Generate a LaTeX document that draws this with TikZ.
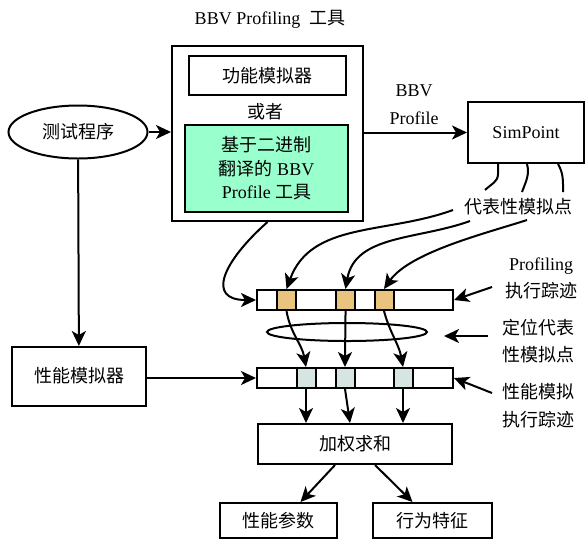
\documentclass[tikz,border=0pt]{standalone}
\usepackage{fontspec}
\usepackage{tikz}
\usetikzlibrary{arrows.meta,shapes.geometric}
\setmainfont{Liberation Serif}
\newfontfamily\cjk{Noto Sans CJK SC}
\definecolor{toolgreen}{HTML}{99FFCC}
\definecolor{hitorange}{HTML}{E8C47E}
\definecolor{hitgray}{HTML}{D6E4E2}

\begin{document}
\begin{tikzpicture}[x=1pt,y=-1pt,
    every node/.style={font=\fontsize{18}{22}\selectfont},
    box/.style={draw, line width=2pt, inner sep=0pt},
    cell/.style={draw, line width=2pt, inner sep=0pt, minimum width=19pt, minimum height=20pt},
    arr/.style={line width=2pt, -{Stealth[length=15pt,width=14pt,inset=4pt]}},
    wire/.style={line width=2pt}]
                \useasboundingbox (0,0) rectangle (585,539);
                \node (title) at (270,19) {BBV Profiling\ \ {\cjk 工具}};
                \node[box, minimum width=191pt, minimum height=175pt] (outer) at (267.5,133.5) {};
                \node[box, minimum width=157pt, minimum height=39pt] (func) at (267.5,75.5) {\cjk 功能模拟器};
                \node (or) at (265,112) {\cjk 或者};
                \node[box, fill=toolgreen, minimum width=163pt, minimum height=87pt, align=center,
                    font=\fontsize{18}{23.5}\selectfont] (bt) at (266.5,168.5) {{\cjk 基于二进制}\\{\cjk 翻译的} BBV\\Profile {\cjk 工具}};
                \node[draw, ellipse, line width=2pt, minimum width=139pt, minimum height=53pt, inner sep=0pt] (test) at (78,132) {\cjk 测试程序};
                \node[box, minimum width=134pt, minimum height=59pt] (psim) at (79,376.5) {\raisebox{4pt}{\cjk 性能模拟器}};
                \node[box, minimum width=116pt, minimum height=61pt] (sim) at (526,132.5) {SimPoint};
                \node[align=center, font=\fontsize{18}{28}\selectfont] (bbv) at (414,105) {BBV\\Profile};
                \node (rep) at (518,207) {\cjk 代表性模拟点};
                \node[box, minimum width=196pt, minimum height=20pt] (bar1) at (355,300) {};
                \node[cell, fill=hitorange] (o1) at (286.5,300) {};
                \node[cell, fill=hitorange] (o2) at (345.5,300) {};
                \node[cell, fill=hitorange] (o3) at (384,300) {};
                \node[draw, ellipse, line width=2pt, minimum width=160pt, minimum height=18pt, inner sep=0pt] (loc) at (347,332) {};
                \node[box, minimum width=196pt, minimum height=20pt] (bar2) at (355,378) {};
                \node[cell, fill=hitgray] (g1) at (306,378) {};
                \node[cell, fill=hitgray] (g2) at (345,378) {};
                \node[cell, fill=hitgray] (g3) at (403,378) {};
                \node[box, minimum width=194pt, minimum height=40pt] (sum) at (355,444) {\cjk 加权求和};
                \node[box, minimum width=117pt, minimum height=35pt] (par) at (278.5,520.5) {\cjk 性能参数};
                \node[box, minimum width=119pt, minimum height=35pt] (beh) at (432.5,520.5) {\cjk 行为特征};
                \node[align=center, font=\fontsize{18}{27}\selectfont] (l1) at (541,278.5) {Profiling\\{\cjk 执行踪迹}};
                \node[align=center, font=\fontsize{18}{27}\selectfont] (l2) at (538,341.5) {{\cjk 定位代表}\\{\cjk 性模拟点}};
                \node[align=center, font=\fontsize{18}{28}\selectfont] (l3) at (538,406) {{\cjk 性能模拟}\\{\cjk 执行踪迹}};
                \coordinate (c1) at (453,210);
                \coordinate (c2) at (470,221);
                \coordinate (c3) at (527,220);
                \coordinate (d1) at (485,190);
                \coordinate (d2) at (522,192);
                \coordinate (d3) at (563,192);
                \coordinate (p1) at (492,287);
                \coordinate (p2) at (488,336);
                \coordinate (p3) at (492,393);
                \draw[arr] (test) -- (test -| outer.west);
                \draw[arr] (test) -- (psim);
                \draw[arr] (outer.east |- sim.west) -- (sim.west);
                \draw[arr] (psim.east |- bar2.west) -- (bar2.west);
                \draw[wire] ([xshift=-28pt]sim.south) -- ++(0,10) to[out=-90,in=45] (d1);
                \draw[wire] ([xshift=1pt]sim.south) to[out=-75,in=70] (d2);
                \draw[wire] ([xshift=32pt]sim.south) to[out=-60,in=90] (d3);
                \draw[arr] (c1) to[out=200,in=70] (o1.north);
                \draw[arr] (c2) to[out=200,in=80] (o2.north);
                \draw[arr] (c3) .. controls (487,233) and (410,252) .. (o3.north);
                \draw[arr] (outer.south) .. controls +(-45,40) and +(-50,0) .. (bar1.west);
                \draw[arr] (o1.south) to[out=-80,in=100] (g1.north);
                \draw[arr] (o2.south) to[out=-90,in=90] (g2.north);
                \draw[arr] (o3.south) to[out=-75,in=100] (g3.north);
                \draw[arr] (g1.south) -- (g1.south |- sum.north);
                \draw[arr] (g2.south) -- ([xshift=5pt]g2.south |- sum.north);
                \draw[arr] (g3.south) -- (g3.south |- sum.north);
                \draw[arr] ([xshift=-20pt]sum.south) -- ([xshift=22pt]par.north);
                \draw[arr] ([xshift=20pt]sum.south) -- ([xshift=-20pt]beh.north);
                \draw[arr] (p1) -- (bar1.east);
                \draw[arr] (p2) -- ([xshift=16pt]loc.east |- p2);
                \draw[arr] (p3) -- (bar2.east);
            \end{tikzpicture}
\end{document}
